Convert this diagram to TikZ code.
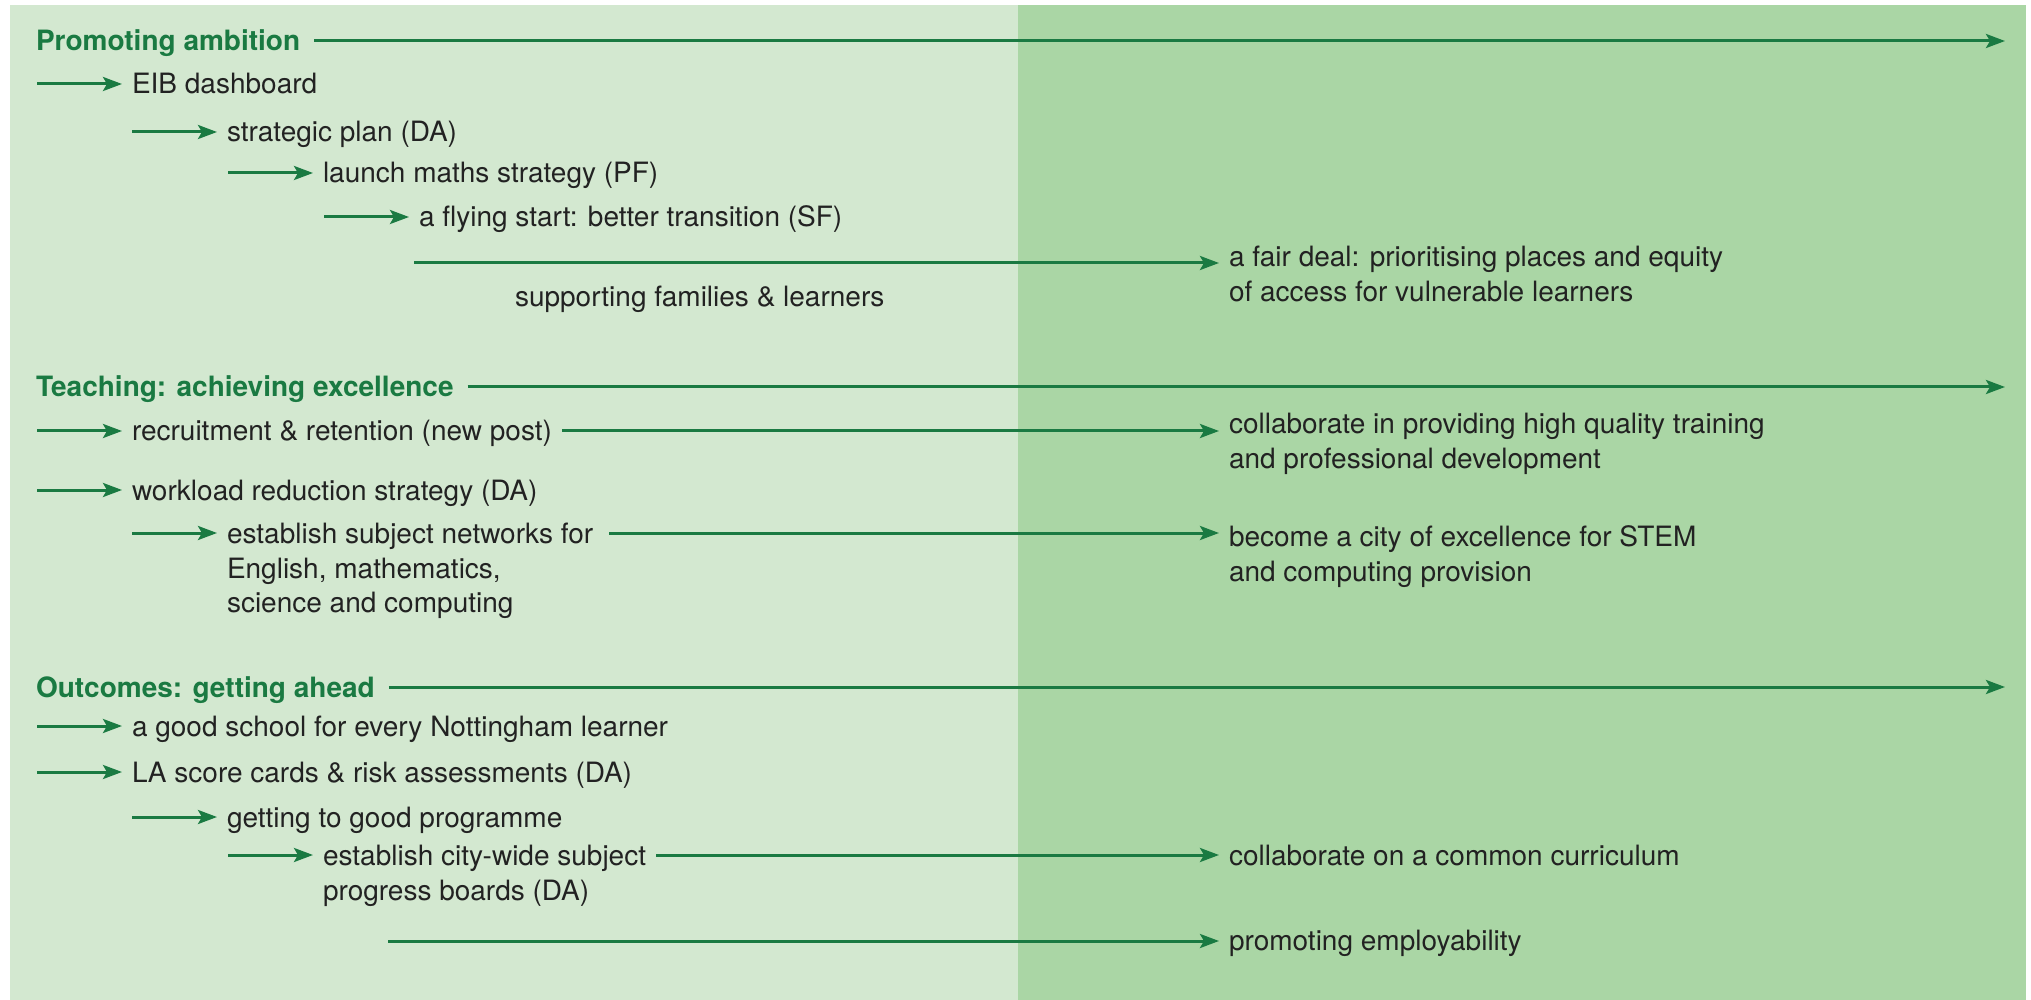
\documentclass[tikz,border=0pt]{standalone}
\usepackage{fontspec}
\setmainfont{TeX Gyre Heros}
\usetikzlibrary{arrows.meta}
\definecolor{panelLight}{HTML}{D3E8D0}
\definecolor{panelDark}{HTML}{AAD6A5}
\definecolor{roadGreen}{HTML}{1A7A42}
\definecolor{roadText}{HTML}{222222}
% several lines, baseline on the first one
\newcommand{\stacked}[1]{\begin{tabular}[t]{@{}l@{}}#1\end{tabular}}
\tikzset{
    item/.style={anchor=base west, inner sep=0pt, outer xsep=5pt,
        text=roadText, font=\fontsize{14}{17.5}\selectfont},
    theme/.style={item, outer xsep=7pt, text=roadGreen,
        font=\fontsize{14}{17.5}\selectfont\bfseries},
    flow/.style={draw=roadGreen, line width=1.5pt,
        -{Stealth[length=9.5pt,width=7pt,inset=2pt]}},
}
\begin{document}
\begin{tikzpicture}[x=0.5pt, y=-0.5pt]
    \useasboundingbox (0,0) rectangle (2031,1000);
    % two background panels
    \fill[panelLight] (10,5) rectangle (1018,1000);
    \fill[panelDark] (1018,5) rectangle (2026,1000);
    \coordinate (rim) at (2005,0);

    % Promoting ambition
    \node[theme] (ambition) at (22,51) {Promoting ambition};
    \node[item] (eib) at (122,94) {EIB dashboard};
    \node[item] (plan) at (217,142) {strategic plan (DA)};
    \node[item] (maths) at (313,183) {launch maths strategy (PF)};
    \node[item] (flying) at (409,227) {a flying start: better transition (SF)};
    \coordinate (fairfrom) at (414,263);
    \node[item] (families) at (505,307) {supporting families \& learners};
    \node[item] (fair) at (1219,267) {\stacked{a fair deal: prioritising places and equity\\of access for vulnerable learners}};

    % Teaching: achieving excellence
    \node[theme] (teaching) at (22,397) {Teaching: achieving excellence};
    \node[item] (recruit) at (122,441) {recruitment \& retention (new post)};
    \node[item] (train) at (1219,433) {\stacked{collaborate in providing high quality training\\and professional development}};
    \node[item] (workload) at (122,500) {workload reduction strategy (DA)};
    \node[item] (networks) at (217,543) {\stacked{establish subject networks for\\English, mathematics,\\science and computing}};
    \node[item] (stem) at (1219,546) {\stacked{become a city of excellence for STEM\\and computing provision}};

    % Outcomes: getting ahead
    \node[theme] (outcomes) at (22,697) {Outcomes: getting ahead};
    \node[item] (school) at (122,736) {a good school for every Nottingham learner};
    \node[item] (cards) at (122,782) {LA score cards \& risk assessments (DA)};
    \node[item] (good) at (217,827) {getting to good programme};
    \node[item] (boards) at (313,865) {\stacked{establish city-wide subject\\progress boards (DA)}};
    \node[item] (curriculum) at (1219,865) {collaborate on a common curriculum};
    \coordinate (jobsfrom) at (388,941);
    \node[item] (jobs) at (1219,950) {promoting employability};

    % theme arrows across both panels
    \foreach \t in {ambition,teaching,outcomes}
        \draw[flow] ([yshift=5pt]\t.base east) -- ([yshift=5pt]\t.base east -| rim);

    % short lead-in arrows
    \foreach \n in {eib,plan,maths,flying,recruit,workload,networks,school,cards,good,boards}
        \draw[flow] ([shift={(-42.5pt,5pt)}]\n.base west) -- ([yshift=5pt]\n.base west);

    % long arrows into the right panel
    \draw[flow] (fairfrom) -- (fairfrom -| fair.west);
    \draw[flow] ([yshift=5pt]recruit.base east) -- ([yshift=5pt]recruit.base east -| train.west);
    \draw[flow] ([shift={(3pt,5pt)}]networks.base east) -- ([yshift=5pt]networks.base east -| stem.west);
    \draw[flow] ([yshift=5pt]boards.base east) -- ([yshift=5pt]boards.base east -| curriculum.west);
    \draw[flow] (jobsfrom) -- (jobsfrom -| jobs.west);
\end{tikzpicture}
\end{document}
